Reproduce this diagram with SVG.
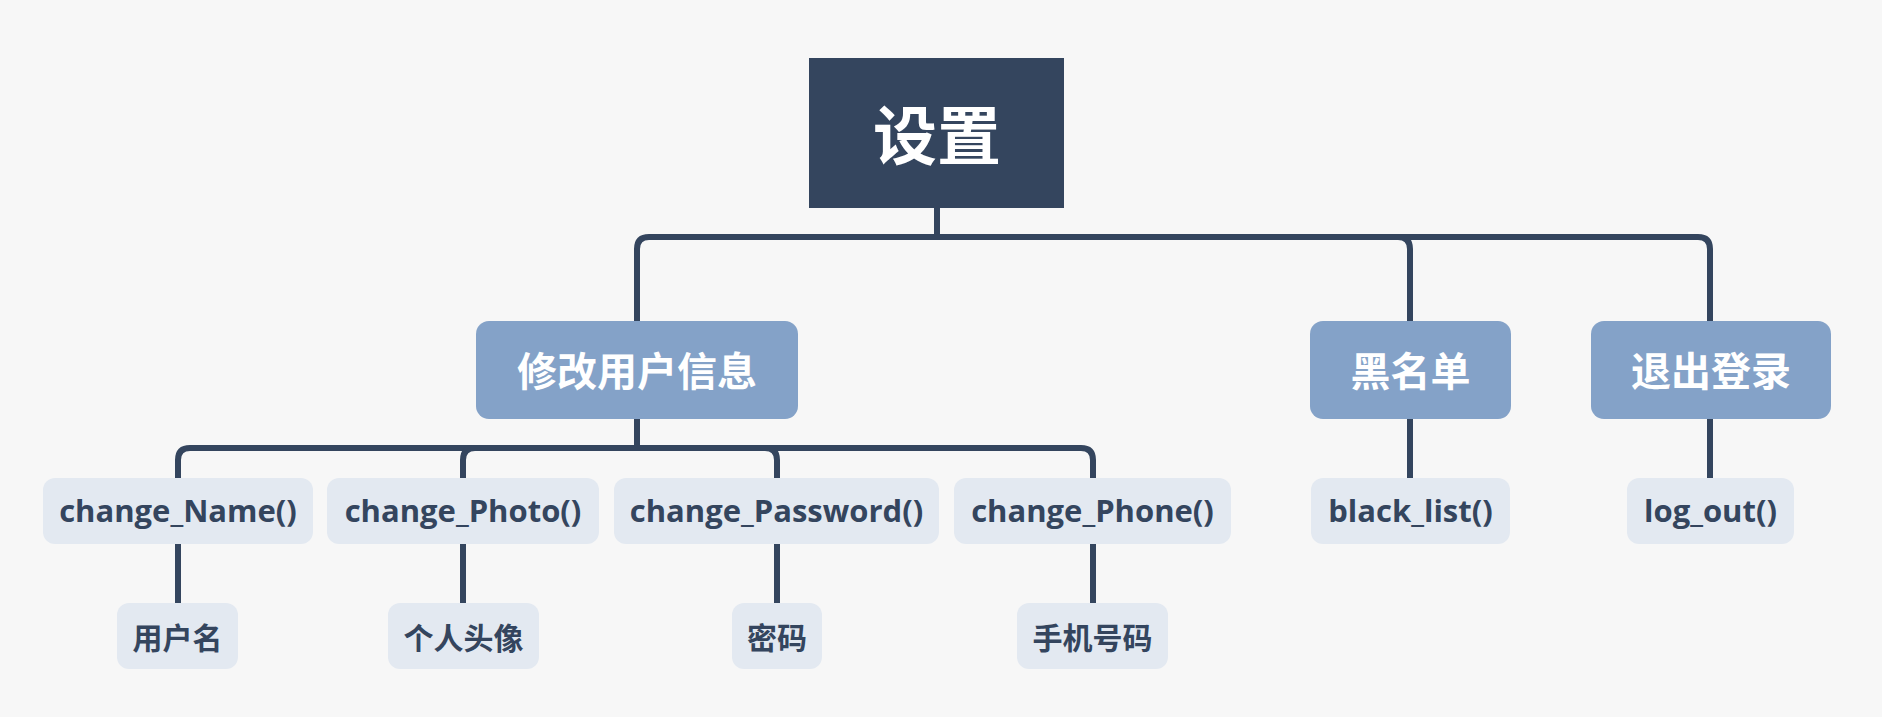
<svg xmlns="http://www.w3.org/2000/svg" width="1882" height="717" viewBox="0 0 1882 717">
<style>
.bg{fill:#f7f7f7}
.root{fill:#34455e}
.l1{fill:#84a2c8}
.lf{fill:#e3e9f1}
.conn path{fill:none;stroke:#34455e;stroke-width:6;stroke-linecap:butt}
.tr{font-family:"Noto Sans CJK SC",sans-serif;font-weight:700;font-size:64px;fill:#ffffff;text-anchor:middle}
.t1{font-family:"Noto Sans CJK SC",sans-serif;font-weight:700;font-size:40px;fill:#ffffff;text-anchor:middle}
.tf{font-family:"Open Sans","Noto Sans CJK SC",sans-serif;font-weight:700;font-size:31px;fill:#34455e;text-anchor:middle}
.tc{font-family:"Noto Sans CJK SC",sans-serif;font-weight:700;font-size:30px;fill:#34455e;text-anchor:middle}
</style>
<rect class="bg" x="0" y="0" width="1882" height="717"/>
<g id="connectors" class="conn">
<path d="M937,208 V237 H649 Q637,237 637,249 V321"/>
<path d="M937,208 V237 H1398 Q1410,237 1410,249 V321"/>
<path d="M937,208 V237 H1698 Q1710,237 1710,249 V321"/>
<path d="M637,419 V448 H190 Q178,448 178,460 V478"/>
<path d="M637,419 V448 H475 Q463,448 463,460 V478"/>
<path d="M637,419 V448 H765 Q777,448 777,460 V478"/>
<path d="M637,419 V448 H1081 Q1093,448 1093,460 V478"/>
<path d="M1410,419 V478"/>
<path d="M1710,419 V478"/>
<path d="M178,544 V603"/>
<path d="M463,544 V603"/>
<path d="M777,544 V603"/>
<path d="M1093,544 V603"/>
</g>
<g id="root"><rect class="root" x="809" y="58" width="255" height="150"/><text class="tr" x="937" y="159">设置</text></g>
<g id="modify"><rect class="l1" x="476" y="321" width="322" height="98" rx="13"/><text class="t1" x="637" y="386">修改用户信息</text></g>
<g id="blacklist"><rect class="l1" x="1310" y="321" width="201" height="98" rx="13"/><text class="t1" x="1410.5" y="386">黑名单</text></g>
<g id="logout"><rect class="l1" x="1591" y="321" width="240" height="98" rx="13"/><text class="t1" x="1711" y="386">退出登录</text></g>
<g id="changeName"><rect class="lf" x="43" y="478" width="270" height="66" rx="12"/><text class="tf" x="178" y="522">change_Name()</text></g>
<g id="changePhoto"><rect class="lf" x="327" y="478" width="272" height="66" rx="12"/><text class="tf" x="463" y="522">change_Photo()</text></g>
<g id="changePassword"><rect class="lf" x="614" y="478" width="325" height="66" rx="12"/><text class="tf" x="776.5" y="522">change_Password()</text></g>
<g id="changePhone"><rect class="lf" x="954" y="478" width="277" height="66" rx="12"/><text class="tf" x="1092.5" y="522">change_Phone()</text></g>
<g id="blackListFn"><rect class="lf" x="1311" y="478" width="199" height="66" rx="12"/><text class="tf" x="1410.5" y="522">black_list()</text></g>
<g id="logOutFn"><rect class="lf" x="1627" y="478" width="167" height="66" rx="12"/><text class="tf" x="1710.5" y="522">log_out()</text></g>
<g id="username"><rect class="lf" x="117" y="603" width="121" height="66" rx="12"/><text class="tc" x="177.5" y="649">用户名</text></g>
<g id="avatar"><rect class="lf" x="388" y="603" width="151" height="66" rx="12"/><text class="tc" x="463.5" y="649">个人头像</text></g>
<g id="password"><rect class="lf" x="732" y="603" width="90" height="66" rx="12"/><text class="tc" x="777" y="649">密码</text></g>
<g id="phone"><rect class="lf" x="1017" y="603" width="151" height="66" rx="12"/><text class="tc" x="1092.5" y="649">手机号码</text></g>
</svg>
